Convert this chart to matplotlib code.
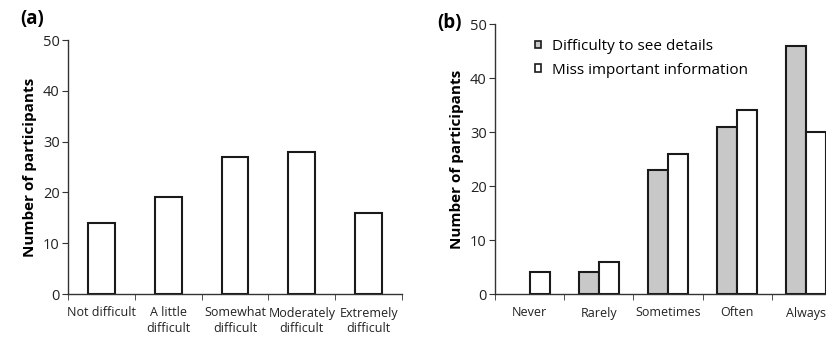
import matplotlib.pyplot as plt
import numpy as np

plt.rcParams['font.family'] = ['Open Sans', 'DejaVu Sans']

# panel (a)
cats_a = ['Not difficult', 'A little\ndifficult', 'Somewhat\ndifficult',
          'Moderately\ndifficult', 'Extremely\ndifficult']
vals_a = [14, 19, 27, 28, 16]

# panel (b)
cats_b = ['Never', 'Rarely', 'Sometimes', 'Often', 'Always']
details = [0, 4, 23, 31, 46]
missinfo = [4, 6, 26, 34, 30]

grey = '#c8c8c8'
edge = '#1a1a1a'
axcol = '#333333'

fig = plt.figure(figsize=(8.26, 3.39), dpi=100)
ax1 = fig.add_axes([68/826, 45/339, 334/826, 254/339])
ax2 = fig.add_axes([495/826, 45/339, 346/826, 270/339])


def style(ax):
    for s in ['top', 'right']:
        ax.spines[s].set_visible(False)
    for s in ['left', 'bottom']:
        ax.spines[s].set_color(axcol)
        ax.spines[s].set_linewidth(1.0)
    ax.set_ylim(0, 50)
    ax.set_yticks(np.arange(0, 51, 10))
    ax.tick_params(axis='y', direction='out', length=4, color=axcol,
                   labelsize=10.5, labelcolor='#222222', pad=2)
    ax.tick_params(axis='x', which='major', length=0, labelsize=9,
                   labelcolor='#222222', pad=9)
    ax.tick_params(axis='x', which='minor', length=4, color=axcol,
                   direction='out')
    ax.set_ylabel('Number of participants', fontsize=11, fontweight='bold',
                  labelpad=4)


x = np.arange(5)
ax1.bar(x, vals_a, width=0.4, color='white', edgecolor=edge, linewidth=1.5)
style(ax1)
ax1.set_xlim(-0.5, 4.5)
ax1.set_xticks(x)
ax1.set_xticklabels(cats_a, linespacing=1.3)
ax1.set_xticks(np.arange(-0.5, 5, 1), minor=True)

w = 0.29
# zero-height bars get no outline, as in the original
ec_det = [edge if v > 0 else 'none' for v in details]
ec_mis = [edge if v > 0 else 'none' for v in missinfo]
ax2.bar(x - w/2, details, width=w, color=grey, edgecolor=ec_det, linewidth=1.5,
        label='Difficulty to see details')
ax2.bar(x + w/2, missinfo, width=w, color='white', edgecolor=ec_mis,
        linewidth=1.5, label='Miss important information')
style(ax2)
ax2.set_xlim(-0.5, 4.5)
ax2.set_xticks(x)
ax2.set_xticklabels(cats_b)
ax2.set_xticks(np.arange(-0.5, 5, 1), minor=True)
leg = ax2.legend(loc='upper left', bbox_to_anchor=(0.075, 0.995), frameon=False,
                 fontsize=11, handlelength=0.4, handleheight=0.4,
                 handletextpad=0.7, labelspacing=0.55)
for h in leg.legend_handles:
    h.set_edgecolor(edge)
    h.set_linewidth(1.2)

fig.text(20/826, 1 - 19/339, '(a)', fontsize=13.5, fontweight='bold',
         va='center', ha='left')
fig.text(437/826, 1 - 23/339, '(b)', fontsize=13.5, fontweight='bold',
         va='center', ha='left')

fig.savefig('out.png', dpi=100)
